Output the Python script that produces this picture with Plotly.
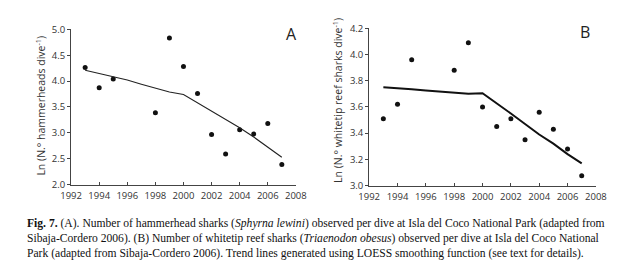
import plotly.graph_objects as go

years_a = [1993, 1994, 1995, 1998, 1999, 2000, 2001, 2002, 2003, 2004, 2005, 2006, 2007]
hammer = [4.26, 3.87, 4.04, 3.39, 4.83, 4.28, 3.76, 2.97, 2.59, 3.06, 2.98, 3.18, 2.39]
trend_years = [1993, 1994, 1995, 1996, 1997, 1998, 1999, 2000, 2001, 2002, 2003, 2004, 2005, 2006, 2007]
hammer_trend = [4.21, 4.15, 4.09, 4.02, 3.94, 3.86, 3.79, 3.74, 3.58, 3.42, 3.26, 3.10, 2.92, 2.73, 2.53]

years_b = [1993, 1994, 1995, 1998, 1999, 2000, 2001, 2002, 2003, 2004, 2005, 2006, 2007]
whitetip = [3.51, 3.62, 3.96, 3.88, 4.09, 3.60, 3.45, 3.51, 3.35, 3.56, 3.43, 3.28, 3.075]
whitetip_trend = [3.75, 3.745, 3.735, 3.725, 3.715, 3.705, 3.70, 3.705, 3.63, 3.55, 3.47, 3.39, 3.32, 3.24, 3.17]

x_ticks = [1992, 1994, 1996, 1998, 2000, 2002, 2004, 2006, 2008]
ya_ticks = [2.0, 2.5, 3.0, 3.5, 4.0, 4.5, 5.0]
yb_ticks = [3.0, 3.2, 3.4, 3.6, 3.8, 4.0, 4.2]

W, H = 623, 268
fig = go.Figure()

fig.add_trace(go.Scatter(x=years_a, y=hammer, mode="markers",
                         marker=dict(color="#111", size=5), xaxis="x", yaxis="y"))
fig.add_trace(go.Scatter(x=trend_years, y=hammer_trend, mode="lines",
                         line=dict(color="#222", width=1.1), xaxis="x", yaxis="y"))
fig.add_trace(go.Scatter(x=years_b, y=whitetip, mode="markers",
                         marker=dict(color="#111", size=5), xaxis="x2", yaxis="y2"))
fig.add_trace(go.Scatter(x=trend_years, y=whitetip_trend, mode="lines",
                         line=dict(color="#111", width=2), xaxis="x2", yaxis="y2"))

tickfont = dict(family="Open Sans", size=9.5, color="#333")
ax_common = dict(showgrid=False, zeroline=False, showline=True, linecolor="#444",
                 linewidth=1, tickcolor="#444", ticklen=3, tickfont=tickfont)

fig.update_layout(
    width=W, height=H, margin=dict(l=0, r=0, t=0, b=0),
    paper_bgcolor="white", plot_bgcolor="white", showlegend=False,
    xaxis=dict(domain=[54 / W, 287 / W], range=[1992, 2008], tickvals=x_ticks,
               ticks="inside", ticklabelstandoff=2, anchor="y", **ax_common),
    yaxis=dict(domain=[1 - 178.3 / H, 1 - 15 / H], range=[2.0, 5.0], tickvals=ya_ticks,
               ticktext=[f"{v:.1f}" for v in ya_ticks], ticks="outside", anchor="x", **ax_common),
    xaxis2=dict(domain=[363 / W, 598 / W], range=[1992, 2008], tickvals=x_ticks,
                ticks="inside", ticklabelstandoff=2, anchor="y2", **ax_common),
    yaxis2=dict(domain=[1 - 179.3 / H, 1 - 14 / H], range=[3.0, 4.2], tickvals=yb_ticks,
                ticktext=[f"{v:.1f}" for v in yb_ticks], ticks="outside", anchor="x2", **ax_common),
)

title_font = dict(family="Open Sans", size=10.5, color="#333")
fig.add_annotation(text="Ln (N.° hammerheads dive<sup>-1</sup>)", textangle=-90,
                   xref="paper", yref="paper", x=22 / W, y=1 - 95 / H,
                   showarrow=False, font=title_font, xanchor="center", yanchor="middle")
fig.add_annotation(text="Ln (N.° whitetip reef sharks dive<sup>-1</sup>)", textangle=-90,
                   xref="paper", yref="paper", x=330 / W, y=1 - 90 / H,
                   showarrow=False, font=title_font, xanchor="center", yanchor="middle")
fig.add_annotation(text="A", xref="paper", yref="paper", x=282 / W, y=1 - 20 / H,
                   showarrow=False, font=dict(family="Open Sans", size=16, color="#222"),
                   xanchor="center", yanchor="middle")
fig.add_annotation(text="B", xref="paper", yref="paper", x=587 / W, y=1 - 18 / H,
                   showarrow=False, font=dict(family="Open Sans", size=16, color="#222"),
                   xanchor="center", yanchor="middle")

cap_font = dict(family="Liberation Serif", size=11.6, color="#111")
caption = [
    "<b>Fig. 7.</b> (A). Number of hammerhead sharks (<i>Sphyrna lewini</i>) observed per dive at Isla del Coco National Park (adapted from",
    "Sibaja-Cordero 2006). (B) Number of whitetip reef sharks (<i>Triaenodon obesus</i>) observed per dive at Isla del Coco National",
    "Park (adapted from Sibaja-Cordero 2006). Trend lines generated using LOESS smoothing function (see text for details).",
]
fig.add_annotation(text="<br>".join(caption), xref="paper", yref="paper", x=6 / W,
                   y=1 - 235 / H, showarrow=False, font=cap_font,
                   xanchor="left", yanchor="middle", align="left")

fig.write_html("out.html")
